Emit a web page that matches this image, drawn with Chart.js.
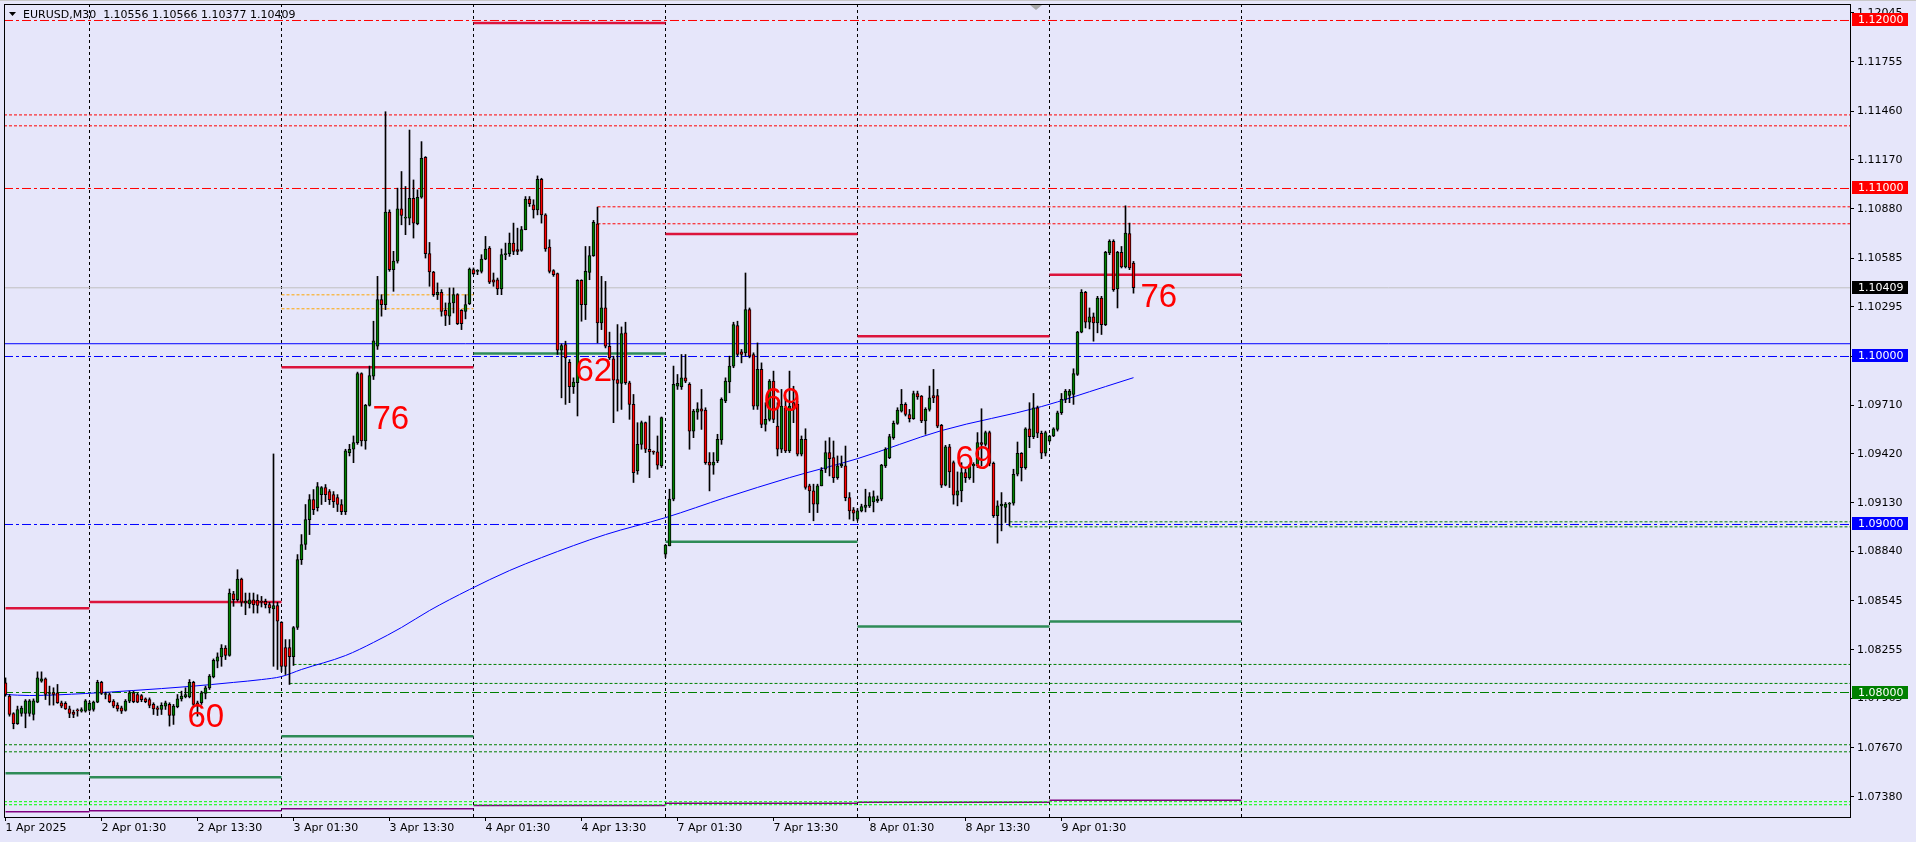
<!DOCTYPE html>
<html><head><meta charset="utf-8">
<script src="https://cdn.jsdelivr.net/npm/chart.js"></script>
<style>
html,body{margin:0;padding:0;background:#E6E6FA;overflow:hidden}
canvas{display:block}
</style></head>
<body>
<canvas id="c" width="1916" height="842" style="width:1916px;height:842px"></canvas>
<script>
// ---------- DATA ----------
const symbolTitle = 'EURUSD,M30';
// M30 candles [open, high, low, close], one array per trading day
const apr01 = [
[1.08057,1.08087,1.07978,1.07988],[1.07978,1.07988,1.07859,1.07869],[1.07875,1.07880,1.07784,1.07814],
[1.07814,1.07919,1.07810,1.07899],[1.07875,1.07919,1.07859,1.07907],[1.07875,1.07958,1.07790,1.07950],
[1.07875,1.07958,1.07859,1.07950],[1.07869,1.07962,1.07836,1.07950],[1.07943,1.08123,1.07939,1.08087],
[1.08067,1.08123,1.08061,1.08081],[1.08081,1.08087,1.07958,1.07988],[1.07994,1.08038,1.07925,1.07998],
[1.07998,1.08028,1.07925,1.07988],[1.07998,1.08048,1.07935,1.07939],[1.07939,1.07949,1.07909,1.07919],
[1.07935,1.07945,1.07899,1.07903],[1.07903,1.07919,1.07850,1.07875],[1.07883,1.07895,1.07850,1.07869],
[1.07895,1.07903,1.07859,1.07891],[1.07889,1.07909,1.07883,1.07899],[1.07889,1.07958,1.07883,1.07950]];
const apr02 = [
[1.07895,1.07949,1.07889,1.07935],[1.07899,1.07949,1.07889,1.07943],[1.07943,1.08073,1.07939,1.08061],
[1.08061,1.08067,1.07988,1.07994],[1.07988,1.08002,1.07962,1.07994],[1.07988,1.07998,1.07939,1.07945],
[1.07949,1.07958,1.07909,1.07919],[1.07925,1.07939,1.07889,1.07903],[1.07909,1.07919,1.07875,1.07889],
[1.07893,1.07958,1.07889,1.07949],[1.07949,1.08008,1.07939,1.07998],[1.07998,1.08008,1.07939,1.07945],
[1.07988,1.07998,1.07939,1.07943],[1.07982,1.07988,1.07945,1.07958],[1.07962,1.07968,1.07939,1.07945],
[1.07958,1.07968,1.07909,1.07923],[1.07929,1.07939,1.07869,1.07903],[1.07909,1.07919,1.07863,1.07899],
[1.07899,1.07939,1.07869,1.07923],[1.07919,1.07949,1.07899,1.07939],[1.07929,1.07939,1.07800,1.07863],
[1.07863,1.07929,1.07810,1.07919],[1.07915,1.07988,1.07909,1.07962],[1.07962,1.08008,1.07949,1.07978],
[1.07974,1.08028,1.07968,1.07988],[1.07974,1.08077,1.07968,1.08061],[1.08061,1.08067,1.07919,1.07929],
[1.07939,1.07949,1.07859,1.07923],[1.07939,1.08008,1.07929,1.07998],[1.07994,1.08038,1.07962,1.08028],
[1.08028,1.08107,1.08018,1.08097],[1.08093,1.08200,1.08087,1.08192],[1.08186,1.08236,1.08147,1.08212],
[1.08212,1.08285,1.08156,1.08265],[1.08265,1.08279,1.08196,1.08220],[1.08220,1.08616,1.08216,1.08592],
[1.08588,1.08602,1.08513,1.08552],[1.08552,1.08731,1.08543,1.08675],[1.08675,1.08681,1.08513,1.08537],
[1.08533,1.08592,1.08463,1.08543],[1.08527,1.08592,1.08503,1.08552],[1.08552,1.08592,1.08473,1.08523],
[1.08548,1.08582,1.08473,1.08519],[1.08543,1.08572,1.08509,1.08537],[1.08543,1.08556,1.08503,1.08523],
[1.08523,1.08537,1.08473,1.08503],[1.08497,1.09420,1.08156,1.08517],[1.08517,1.08537,1.08137,1.08424]];
const apr03 = [
[1.08417,1.08422,1.08125,1.08155],[1.08268,1.08315,1.08107,1.08155],[1.08268,1.08315,1.08048,1.08214],
[1.08214,1.08393,1.08161,1.08387],[1.08387,1.08821,1.08375,1.08791],[1.08791,1.08940,1.08762,1.08881],
[1.08881,1.09119,1.08851,1.09029],[1.09029,1.09178,1.08940,1.09148],[1.09148,1.09208,1.09059,1.09089],
[1.09100,1.09250,1.09080,1.09226],[1.09178,1.09226,1.09119,1.09220],[1.09220,1.09238,1.09136,1.09178],
[1.09196,1.09208,1.09119,1.09148],[1.09178,1.09196,1.09101,1.09136],[1.09160,1.09178,1.09077,1.09119],
[1.09119,1.09148,1.09059,1.09077],[1.09077,1.09448,1.09059,1.09438],[1.09428,1.09477,1.09408,1.09448],
[1.09448,1.09527,1.09368,1.09487],[1.09487,1.09907,1.09477,1.09899],[1.09899,1.09903,1.09467,1.09497],
[1.09497,1.09715,1.09448,1.09709],[1.09709,1.09943,1.09705,1.09887],[1.09883,1.10210,1.09863,1.10093],
[1.10061,1.10477,1.10042,1.10339],[1.10339,1.10368,1.10240,1.10309],[1.10309,1.11457,1.10279,1.10859],
[1.10859,1.10873,1.10507,1.10517],[1.10517,1.10626,1.10388,1.10568],[1.10568,1.11002,1.10556,1.10879],
[1.10879,1.11101,1.10784,1.10840],[1.10824,1.11012,1.10725,1.10830],[1.10824,1.11348,1.10784,1.10942],
[1.10942,1.11051,1.10705,1.10794],[1.10790,1.10992,1.10784,1.10948],[1.10948,1.11279,1.10942,1.11180],
[1.11186,1.11190,1.10586,1.10612],[1.10612,1.10679,1.10418,1.10503],[1.10503,1.10507,1.10358,1.10368],
[1.10368,1.10438,1.10339,1.10382],[1.10382,1.10398,1.10240,1.10269],[1.10275,1.10319,1.10184,1.10244],
[1.10240,1.10408,1.10190,1.10319],[1.10319,1.10408,1.10259,1.10368],[1.10368,1.10374,1.10190,1.10196],
[1.10275,1.10279,1.10160,1.10196],[1.10269,1.10368,1.10224,1.10309],[1.10315,1.10527,1.10309,1.10521]];
const apr04 = [
[1.10517,1.10527,1.10487,1.10493],[1.10507,1.10517,1.10487,1.10510],[1.10507,1.10606,1.10497,1.10580],
[1.10580,1.10715,1.10576,1.10640],[1.10645,1.10655,1.10434,1.10442],[1.10457,1.10497,1.10418,1.10442],
[1.10457,1.10467,1.10368,1.10402],[1.10402,1.10640,1.10368,1.10606],[1.10606,1.10675,1.10576,1.10612],
[1.10612,1.10735,1.10596,1.10675],[1.10675,1.10794,1.10606,1.10626],[1.10636,1.10764,1.10606,1.10626],
[1.10632,1.10774,1.10626,1.10755],[1.10755,1.10952,1.10754,1.10937],[1.10937,1.10952,1.10893,1.10909],
[1.10903,1.10933,1.10824,1.10873],[1.10873,1.11075,1.10843,1.11055],[1.11055,1.11061,1.10794,1.10843],
[1.10843,1.10850,1.10626,1.10640],[1.10651,1.10695,1.10497,1.10507],[1.10511,1.10517,1.10477,1.10487],
[1.10493,1.10497,1.10012,1.10038],[1.10038,1.10075,1.09754,1.10065],[1.10071,1.10091,1.09715,1.09992],
[1.09966,1.09982,1.09725,1.09820],[1.09820,1.09873,1.09780,1.09848],[1.09844,1.10457,1.09646,1.10453],
[1.10453,1.10457,1.10210,1.10309],[1.10309,1.10655,1.10220,1.10507],[1.10501,1.10655,1.10457,1.10600],
[1.10600,1.10810,1.10596,1.10798],[1.10790,1.10889,1.10081,1.10200],[1.10200,1.10477,1.10160,1.10289],
[1.10289,1.10447,1.10051,1.10061],[1.10061,1.10145,1.09982,1.09992],[1.09986,1.10002,1.09606,1.09859],
[1.09863,1.10190,1.09675,1.09840],[1.09840,1.10176,1.09685,1.10137],[1.10141,1.10204,1.09834,1.09844],
[1.09844,1.09853,1.09626,1.09715],[1.09715,1.09774,1.09250,1.09309],[1.09319,1.09606,1.09299,1.09477],
[1.09477,1.09616,1.09448,1.09606],[1.09606,1.09610,1.09428,1.09448],[1.09448,1.09646,1.09279,1.09432],
[1.09432,1.09438,1.09418,1.09430],[1.09432,1.09527,1.09329,1.09353],[1.09349,1.09640,1.09339,1.09636]];
const apr07 = [
[1.08824,1.08880,1.08804,1.08877],[1.08873,1.09210,1.08873,1.09151],[1.09151,1.09943,1.09141,1.09834],
[1.09824,1.09893,1.09804,1.09840],[1.09820,1.10012,1.09804,1.09873],[1.09873,1.10012,1.09844,1.09853],
[1.09834,1.09844,1.09448,1.09556],[1.09556,1.09685,1.09517,1.09675],[1.09669,1.09725,1.09626,1.09689],
[1.09689,1.09804,1.09566,1.09675],[1.09681,1.09695,1.09358,1.09368],[1.09372,1.09428,1.09200,1.09353],
[1.09353,1.09428,1.09299,1.09372],[1.09378,1.09537,1.09368,1.09507],[1.09503,1.09754,1.09477,1.09745],
[1.09735,1.09873,1.09725,1.09853],[1.09848,1.10002,1.09784,1.09943],[1.09943,1.10204,1.09933,1.10190],
[1.10184,1.10210,1.10002,1.10012],[1.10028,1.10042,1.09962,1.10012],[1.10022,1.10497,1.10002,1.10279],
[1.10279,1.10289,1.09992,1.10002],[1.10012,1.10022,1.09685,1.09705],[1.09705,1.10081,1.09685,1.09923],
[1.09923,1.09962,1.09576,1.09596],[1.09596,1.09725,1.09556,1.09626],[1.09626,1.09863,1.09616,1.09853],
[1.09853,1.09913,1.09606,1.09626],[1.09586,1.09725,1.09408,1.09448],[1.09448,1.09804,1.09428,1.09705],
[1.09695,1.09745,1.09428,1.09438],[1.09438,1.09913,1.09428,1.09705],[1.09725,1.09823,1.09606,1.09685],
[1.09715,1.09735,1.09408,1.09418],[1.09418,1.09527,1.09408,1.09507],[1.09507,1.09570,1.09210,1.09220],
[1.09230,1.09240,1.09071,1.09200],[1.09200,1.09240,1.09022,1.09121],[1.09121,1.09240,1.09071,1.09230],
[1.09230,1.09339,1.09230,1.09323],[1.09329,1.09497,1.09309,1.09428],[1.09428,1.09517,1.09289,1.09392],
[1.09398,1.09497,1.09250,1.09279],[1.09279,1.09408,1.09269,1.09349],[1.09349,1.09408,1.09339,1.09359],
[1.09349,1.09467,1.09141,1.09160],[1.09160,1.09190,1.09032,1.09081],[1.09087,1.09101,1.09022,1.09067]];
const apr08 = [
[1.09032,1.09095,1.09022,1.09081],[1.09081,1.09121,1.09075,1.09107],[1.09101,1.09210,1.09075,1.09115],
[1.09111,1.09190,1.09101,1.09166],[1.09135,1.09200,1.09075,1.09166],[1.09141,1.09170,1.09131,1.09151],
[1.09151,1.09358,1.09141,1.09353],[1.09349,1.09457,1.09339,1.09448],[1.09398,1.09537,1.09392,1.09523],
[1.09517,1.09616,1.09507,1.09602],[1.09602,1.09695,1.09596,1.09681],[1.09675,1.09804,1.09669,1.09715],
[1.09715,1.09725,1.09646,1.09655],[1.09655,1.09685,1.09610,1.09630],[1.09630,1.09794,1.09626,1.09780],
[1.09780,1.09794,1.09745,1.09760],[1.09764,1.09768,1.09606,1.09616],[1.09616,1.09695,1.09537,1.09685],
[1.09685,1.09824,1.09675,1.09754],[1.09768,1.09923,1.09725,1.09754],[1.09768,1.09804,1.09576,1.09586],
[1.09590,1.09596,1.09220,1.09234],[1.09234,1.09471,1.09230,1.09463],[1.09463,1.09477,1.09220,1.09313],
[1.09368,1.09378,1.09121,1.09174],[1.09174,1.09313,1.09111,1.09200],[1.09200,1.09368,1.09135,1.09309],
[1.09309,1.09329,1.09250,1.09279],[1.09279,1.09358,1.09269,1.09349],[1.09349,1.09368,1.09250,1.09358],
[1.09349,1.09547,1.09339,1.09487],[1.09487,1.09689,1.09349,1.09477],[1.09477,1.09556,1.09467,1.09547],
[1.09547,1.09556,1.09349,1.09364],[1.09364,1.09372,1.09042,1.09052],[1.09052,1.09141,1.08889,1.09111],
[1.09111,1.09190,1.08962,1.09121],[1.09101,1.09131,1.09012,1.09121],[1.09121,1.09131,1.08992,1.09127],
[1.09127,1.09329,1.09115,1.09299],[1.09299,1.09491,1.09289,1.09424],[1.09424,1.09428,1.09259,1.09339],
[1.09339,1.09576,1.09329,1.09570],[1.09570,1.09725,1.09457,1.09523],[1.09523,1.09780,1.09511,1.09695],
[1.09695,1.09705,1.09517,1.09543],[1.09543,1.09556,1.09392,1.09424],[1.09424,1.09556,1.09408,1.09547]];
const apr09 = [
[1.09497,1.09531,1.09491,1.09527],[1.09527,1.09576,1.09523,1.09570],[1.09566,1.09675,1.09556,1.09665],
[1.09665,1.09780,1.09655,1.09745],[1.09745,1.09804,1.09725,1.09794],[1.09768,1.09804,1.09725,1.09794],
[1.09774,1.09927,1.09715,1.09899],[1.09893,1.10150,1.09887,1.10145],[1.10145,1.10398,1.10141,1.10382],
[1.10382,1.10388,1.10170,1.10204],[1.10204,1.10289,1.10164,1.10236],[1.10236,1.10259,1.10091,1.10200],
[1.10200,1.10358,1.10141,1.10348],[1.10348,1.10358,1.10131,1.10190],[1.10190,1.10626,1.10184,1.10620],
[1.10616,1.10695,1.10606,1.10685],[1.10685,1.10695,1.10388,1.10398],[1.10402,1.10626,1.10289,1.10620],
[1.10620,1.10655,1.10527,1.10533],[1.10533,1.10897,1.10527,1.10735],[1.10731,1.10794,1.10517,1.10527],
[1.10556,1.10566,1.10377,1.10409]];

// moving average (read at selected bars)
const maBars   = [0,6,20,32,46,57,64,69,74,85,92,99,106,116,126,134,150,165,180,196,213,234,259,275,282];
const maValues = [1.07988,1.07982,1.07994,1.08012,1.08036,1.08060,1.08077,1.08095,1.08137,1.08220,1.08298,1.08387,
                  1.08488,1.08613,1.08726,1.08803,1.08940,1.09041,1.09160,1.09279,1.09392,1.09559,1.09702,1.09821,1.09874];

// day boundaries (bar index) and daily levels
const dayStartBars = [0,21,69,117,165,213,261];
const dayEndBars   = [21,69,117,165,213,261,309];
const separatorBars = [21,69,117,165,213,261,309];
const dayHighLevel  = [1.08502,1.08538,1.09936,1.11985,1.10729,1.10121,1.10487];
const dayLowLevel   = [1.07520,1.07496,1.07740,1.10018,1.08897,1.08393,1.08422];
const dayBaseLevel  = [1.07290,1.07296,1.07308,1.07328,1.07341,1.07347,1.07359];

// horizontal levels
const roundLevels      = [1.12000,1.11000,1.10000,1.09000,1.08000];
const upperDotLevels   = [1.11438,1.11373];
const swingDotLevels   = [1.10891,1.10790];
const swingDotFromBar  = [148,148];
const supportDotLevels = [1.08167,1.08054,1.09016,1.08986];
const supportDotFromBar= [72,71,251,251];
const lowerDotLevels   = [1.07689,1.07647];
const floorDotLevels   = [1.07350,1.07332];
const pivotDotLevels   = [1.10367,1.10284];
const pivotDotBars     = [69,117];
const blueLevel        = 1.10076;

// count labels
const countTexts  = ['60','76','62','69','69','76'];
const countBars   = [45.5,91.75,142.5,189.5,237.5,283.75];
const countPrices = [1.07797,1.09570,1.09856,1.09678,1.09332,1.10297];

// axes
const xTickBars   = [0,24,48,72,96,120,144,168,192,216,240,264];
const xTickLabels = ['1 Apr 2025','2 Apr 01:30','2 Apr 13:30','3 Apr 01:30','3 Apr 13:30','4 Apr 01:30',
                     '4 Apr 13:30','7 Apr 01:30','7 Apr 13:30','8 Apr 01:30','8 Apr 13:30','9 Apr 01:30'];
const yTickValues = [1.12045,1.11755,1.11460,1.11170,1.10880,1.10585,1.10295,1.10000,1.09710,1.09420,
                     1.09130,1.08840,1.08545,1.08255,1.07965,1.07670,1.07380];
const yMin = 1.0725893, yMax = 1.1209821;
const xMin = -0.375, xMax = 461.125;

// ---------- BUILD ----------
const candles = [...apr01,...apr02,...apr03,...apr04,...apr07,...apr08,...apr09];
const last = candles[candles.length-1];
const UP='#008000', DOWN='#FF0000';

const datasets = [];
datasets.push({
  type:'bar', label:'body', order:0, grouped:false,
  data: candles.map((r,i)=>({x:i, y:[Math.min(r[0],r[3]), Math.max(r[0],r[3])]})),
  backgroundColor: candles.map(r=> r[3]>=r[0]?UP:DOWN),
  borderColor:'#000000', borderWidth:1, borderSkipped:false, barThickness:3, minBarLength:1
});
datasets.push({
  type:'bar', label:'wick', order:1, grouped:false,
  data: candles.map((r,i)=>({x:i, y:[r[2], r[1]]})),
  backgroundColor:'#000000', borderWidth:0, barThickness:1
});
datasets.push({
  type:'line', label:'MA', order:2,
  data: maBars.map((b,k)=>({x:b, y:maValues[k]})),
  borderColor:'#0000FF', borderWidth:1, pointRadius:0, cubicInterpolationMode:'monotone', fill:false
});
function hline(p, x0, x1, color, width, dash, order){
  datasets.push({type:'line', order:order||3, data:[{x:x0,y:p},{x:x1,y:p}], borderColor:color,
    borderWidth:width, borderDash:dash||[], pointRadius:0, fill:false, tension:0});
}
const DASHDOT=[9,3,3,3], DOT=[3,2];
const roundColors=['#FF0000','#FF0000','#0000FF','#0000FF','#008000'];
roundLevels.forEach((p,k)=>hline(p,xMin,xMax,roundColors[k],1,DASHDOT));
upperDotLevels.forEach(p=>hline(p,xMin,xMax,'#FF0000',1,DOT));
swingDotLevels.forEach((p,k)=>hline(p,swingDotFromBar[k],xMax,'#FF0000',1,DOT));
supportDotLevels.forEach((p,k)=>hline(p,supportDotFromBar[k],xMax,'#008000',1,DOT));
lowerDotLevels.forEach(p=>hline(p,xMin,xMax,'#008000',1,DOT));
floorDotLevels.forEach(p=>hline(p,xMin,xMax,'#00FF00',1,DOT));
pivotDotLevels.forEach(p=>hline(p,pivotDotBars[0],pivotDotBars[1],'#FFA500',1,DOT));
hline(blueLevel,xMin,xMax,'#0000FF',1);
hline(last[3],xMin,xMax,'#C0C0C0',1);
dayStartBars.forEach((s,k)=>{
  hline(dayHighLevel[k], s, dayEndBars[k], '#DC143C', 2.5);
  hline(dayLowLevel[k],  s, dayEndBars[k], '#2E8B57', 2.5);
  hline(dayBaseLevel[k], s, dayEndBars[k], '#800080', 1.5);
});
separatorBars.forEach(b=>{
  datasets.push({type:'line', order:4, data:[{x:b,y:yMin},{x:b,y:yMax}], borderColor:'#000000',
    borderWidth:1, borderDash:[3,3], pointRadius:0, fill:false});
});

const FONT = 'DejaVu Sans';
const axisLabels = [
  {p:1.12000, bg:'#FF0000'},{p:1.11000, bg:'#FF0000'},{p:last[3], bg:'#000000'},
  {p:1.10000, bg:'#0000FF'},{p:1.09000, bg:'#0000FF'},{p:1.08000, bg:'#008000'}];

const bgPlugin = {
  id:'bg',
  beforeDraw(chart){
    const c=chart.ctx; c.save(); c.fillStyle='#E6E6FA'; c.fillRect(0,0,chart.width,chart.height);
    c.fillStyle='#C8C8C8'; c.fillRect(0,0,chart.width,1); c.restore();
  }
};
const overlay = {
  id:'overlay',
  afterDatasetsDraw(chart){
    const {ctx:c, scales:{x,y}} = chart;
    c.save();
    c.fillStyle='#FF0000'; c.font='33px "Liberation Sans", Arial, sans-serif';
    c.textAlign='left'; c.textBaseline='alphabetic';
    countTexts.forEach((t,k)=>c.fillText(t, x.getPixelForValue(countBars[k]), y.getPixelForValue(countPrices[k])));
    c.restore();
  },
  afterDraw(chart){
    const {ctx:c, chartArea:a, scales:{y}} = chart;
    c.save();
    c.strokeStyle='#000'; c.lineWidth=1;
    c.strokeRect(a.left+0.5, a.top+0.5, a.right-a.left, a.bottom-a.top);
    c.font='11px "'+FONT+'"'; c.textBaseline='middle'; c.textAlign='left';
    axisLabels.forEach(l=>{
      const py=Math.round(y.getPixelForValue(l.p));
      c.fillStyle=l.bg; c.fillRect(a.right+2, py-7, 56, 13);
      c.fillStyle='#FFFFFF'; c.fillText(l.p.toFixed(5), a.right+8, py);
    });
    // header
    c.fillStyle='#000';
    c.beginPath(); c.moveTo(9,12); c.lineTo(16,12); c.lineTo(12.5,16); c.closePath(); c.fill();
    c.textBaseline='alphabetic';
    c.fillText(symbolTitle+'  '+last.map(v=>v.toFixed(5)).join(' '), 23, 18);
    // chart shift marker
    c.fillStyle='#A8A8A8';
    c.beginPath(); c.moveTo(1030,5); c.lineTo(1042,5); c.lineTo(1036,10); c.closePath(); c.fill();
    c.restore();
  }
};

function noPad(s){ s.paddingTop=0; s.paddingBottom=0; s.paddingLeft=0; s.paddingRight=0; }

new Chart(document.getElementById('c'), {
  type:'bar',
  data:{datasets},
  options:{
    responsive:false, animation:false, events:[],
    layout:{padding:{left:4, top:4, right:0, bottom:0}},
    plugins:{legend:{display:false}, tooltip:{enabled:false}},
    scales:{
      x:{
        type:'linear', position:'bottom', min:xMin, max:xMax, offset:false,
        grid:{display:true, drawOnChartArea:false, drawTicks:true, tickLength:4, color:'#000', offset:false},
        border:{display:false},
        ticks:{autoSkip:false, maxRotation:0, minRotation:0, align:'start', padding:1, color:'#000',
               font:{family:FONT, size:11},
               callback:(v)=>{const k=xTickBars.indexOf(v); return k>=0?xTickLabels[k]:'';}},
        afterBuildTicks:(s)=>{ s.ticks = xTickBars.map(v=>({value:v})); },
        afterFit:(s)=>{ s.height = 25; noPad(s); }
      },
      y:{
        type:'linear', position:'right', min:yMin, max:yMax, beginAtZero:false,
        grid:{display:true, drawOnChartArea:false, drawTicks:true, tickLength:4, color:'#000'},
        border:{display:false},
        ticks:{padding:3, color:'#000', font:{family:FONT, size:11}, callback:(v)=>Number(v).toFixed(5)},
        afterBuildTicks:(s)=>{ s.ticks = yTickValues.map(v=>({value:v})); },
        afterFit:(s)=>{ s.width = 66; noPad(s); }
      }
    }
  },
  plugins:[bgPlugin, overlay]
});
</script>
</body></html>
